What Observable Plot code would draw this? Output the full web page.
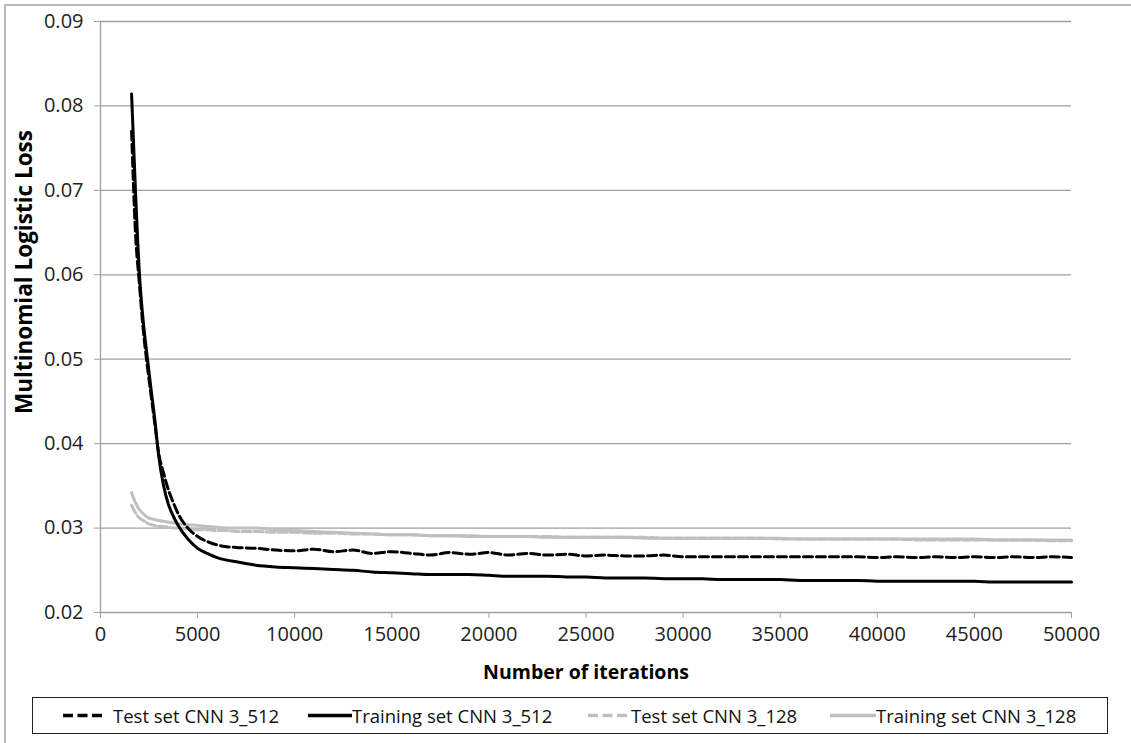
<!DOCTYPE html>
<html>
<head>
<meta charset="utf-8">
<script src="https://cdn.jsdelivr.net/npm/d3@7"></script>
<script src="https://cdn.jsdelivr.net/npm/@observablehq/plot@0.6"></script>
<style>
html, body { margin: 0; padding: 0; background: #fff; }
#wrap { position: relative; width: 1131px; height: 743px; overflow: hidden; font-family: "Open Sans", sans-serif; background: #fff; }
#frame { position: absolute; left: 4px; top: 4px; width: 1200px; height: 800px; border-left: 2px solid #b8b8b8; border-top: 2px solid #b8b8b8; }
#chart { position: absolute; left: 0; top: 0; }
#legend { position: absolute; left: 32px; top: 697px; width: 1074px; height: 35px; border: 1px solid #222; background: #fff; }
.sw { position: absolute; top: 0; }
.lt { position: absolute; top: 0; height: 35px; line-height: 35px; font-size: 18.5px; color: #111; white-space: nowrap; }
</style>
</head>
<body>
<div id="wrap">
  <div id="frame"></div>
  <div id="chart"></div>
  <div id="legend"></div>
</div>
<script>
// ---- data ----
const iterations = [
  1600, 1800, 2000, 2200, 2400, 2600, 2800, 3000, 3250, 3500, 3750, 4000, 4500, 5000, 5500, 6000, 6500, 7000,
  8000, 9000, 10000, 11000, 12000, 13000, 14000, 15000, 16000, 17000,
  18000, 19000, 20000, 21000, 22000, 23000, 24000, 25000, 26000, 27000,
  28000, 29000, 30000, 31000, 32000, 33000, 34000, 35000, 36000, 37000,
  38000, 39000, 40000, 41000, 42000, 43000, 44000, 45000, 46000, 47000,
  48000, 49000, 50000
];
const test512 = [
  0.0770, 0.0650, 0.0590, 0.0535, 0.0494, 0.0458, 0.0423, 0.0388, 0.0365, 0.0345, 0.0330, 0.0317, 0.0300, 0.0290, 0.0284, 0.0280, 0.0278, 0.0277,
  0.0276, 0.0274, 0.0273, 0.0275, 0.0272, 0.0274, 0.0270, 0.0272, 0.0270, 0.0268,
  0.0271, 0.0269, 0.0271, 0.0268, 0.0270, 0.0268, 0.0269, 0.0267, 0.0268, 0.0267,
  0.0267, 0.0268, 0.0266, 0.0266, 0.0266, 0.0266, 0.0266, 0.0266, 0.0266, 0.0266,
  0.0266, 0.0266, 0.0265, 0.0266, 0.0265, 0.0266, 0.0265, 0.0266, 0.0265, 0.0266,
  0.0265, 0.0266, 0.0265
];
const train512 = [
  0.0814, 0.0700, 0.0603, 0.0545, 0.0504, 0.0465, 0.0428, 0.0385, 0.0350, 0.0328, 0.0314, 0.0303, 0.0287, 0.0276, 0.0270, 0.0265, 0.0262, 0.0260,
  0.0256, 0.0254, 0.0253, 0.0252, 0.0251, 0.0250, 0.0248, 0.0247, 0.0246, 0.0245,
  0.0245, 0.0245, 0.0244, 0.0243, 0.0243, 0.0243, 0.0242, 0.0242, 0.0241, 0.0241,
  0.0241, 0.0240, 0.0240, 0.0240, 0.0239, 0.0239, 0.0239, 0.0239, 0.0238, 0.0238,
  0.0238, 0.0238, 0.0237, 0.0237, 0.0237, 0.0237, 0.0237, 0.0237, 0.0236, 0.0236,
  0.0236, 0.0236, 0.0236
];
const test128 = [
  0.0327, 0.0318, 0.0312, 0.0309, 0.0306, 0.0304, 0.0303, 0.0302, 0.0302, 0.0301, 0.0300, 0.0300, 0.0299, 0.0298, 0.0298, 0.0297, 0.0297, 0.0296,
  0.0296, 0.0295, 0.0295, 0.0294, 0.0294, 0.0293, 0.0293, 0.0292, 0.0292, 0.0291,
  0.0291, 0.0291, 0.0290, 0.0290, 0.0290, 0.0290, 0.0289, 0.0289, 0.0289, 0.0289,
  0.0289, 0.0288, 0.0288, 0.0288, 0.0288, 0.0288, 0.0288, 0.0287, 0.0287, 0.0287,
  0.0287, 0.0287, 0.0287, 0.0287, 0.0286, 0.0286, 0.0286, 0.0286, 0.0286, 0.0286,
  0.0286, 0.0285, 0.0285
];
const train128 = [
  0.0342, 0.0330, 0.0322, 0.0317, 0.0313, 0.0311, 0.0310, 0.0309, 0.0308, 0.0307, 0.0306, 0.0305, 0.0304, 0.0303, 0.0302, 0.0301, 0.0300, 0.0300,
  0.0300, 0.0298, 0.0297, 0.0296, 0.0295, 0.0294, 0.0293, 0.0292, 0.0292, 0.0291,
  0.0291, 0.0290, 0.0290, 0.0290, 0.0290, 0.0289, 0.0289, 0.0289, 0.0289, 0.0289,
  0.0288, 0.0288, 0.0288, 0.0288, 0.0288, 0.0288, 0.0288, 0.0288, 0.0287, 0.0287,
  0.0287, 0.0287, 0.0287, 0.0287, 0.0287, 0.0287, 0.0287, 0.0287, 0.0286, 0.0286,
  0.0286, 0.0286, 0.0286
];
const seriesNames = ["Test set CNN 3_512", "Training set CNN 3_512", "Test set CNN 3_128", "Training set CNN 3_128"];
const xTicks = [0, 5000, 10000, 15000, 20000, 25000, 30000, 35000, 40000, 45000, 50000];
const yTicks = [0.02, 0.03, 0.04, 0.05, 0.06, 0.07, 0.08, 0.09];
const xTitle = "Number of iterations";
const yTitle = "Multinomial Logistic Loss";

// ---- styling ----
const BLACK = "#000000", LIGHT = "#bfbfbf", GRID = "#a0a0a0";
const series = [
  { name: seriesNames[0], values: test512, stroke: BLACK, dash: "9,4" },
  { name: seriesNames[1], values: train512, stroke: BLACK, dash: null },
  { name: seriesNames[2], values: test128, stroke: LIGHT, dash: "9,3" },
  { name: seriesNames[3], values: train128, stroke: LIGHT, dash: null }
];
const toRows = (vals) => iterations.map((x, i) => ({ x, y: vals[i] }));
const drawOrder = [3, 2, 0, 1];

const lineMarks = drawOrder.map(i => Plot.line(toRows(series[i].values), {
  x: "x", y: "y", stroke: series[i].stroke, strokeWidth: 3,
  strokeDasharray: series[i].dash || undefined, curve: "monotone-x",
  strokeLinejoin: "round"
}));

const chart = Plot.plot({
  width: 1131,
  height: 690,
  marginLeft: 100,
  marginRight: 60,
  marginTop: 21,
  marginBottom: 78,
  style: { fontFamily: "Open Sans, sans-serif", fontSize: "20px", color: "#222", background: "transparent", overflow: "visible" },
  x: { domain: [0, 50000] },
  y: { domain: [0.02, 0.09] },
  marks: [
    Plot.ruleY(yTicks, { stroke: GRID, strokeWidth: 1.3 }),
    Plot.ruleX([0], { stroke: GRID, strokeWidth: 1.3 }),
    Plot.axisY(yTicks, { tickFormat: d3.format(".2f"), tickSize: 6, tickPadding: 11, stroke: GRID, label: null }),
    Plot.axisX(xTicks, { tickFormat: d3.format("d"), tickSize: 6, tickPadding: 8, stroke: GRID, label: null }),
    ...lineMarks,
    Plot.text([xTitle], { frameAnchor: "bottom", dy: 60, fontWeight: "bold", fontSize: 19.5, fill: "#000", textAnchor: "middle", lineAnchor: "middle" }),
    Plot.text([yTitle], { frameAnchor: "left", dx: -76, dy: -45, rotate: -90, fontWeight: "bold", fontSize: 22.5, fill: "#000", textAnchor: "middle", lineAnchor: "middle" })
  ]
});
document.getElementById("chart").appendChild(chart);

// ---- legend (below the chart) ----
const legend = document.getElementById("legend");
const legendPos = [
  { sx: 30, sw: 39, tx: 80 },
  { sx: 275, sw: 44, tx: 319 },
  { sx: 555, sw: 39, tx: 598 },
  { sx: 797, sw: 46, tx: 843 }
];
series.forEach((s, i) => {
  const p = legendPos[i];
  const svg = d3.create("svg").attr("class", "sw").attr("width", p.sw).attr("height", 35)
    .style("left", p.sx + "px");
  svg.append("line").attr("x1", 0).attr("x2", p.sw).attr("y1", 17.5).attr("y2", 17.5)
    .attr("stroke", s.stroke).attr("stroke-width", 3.5)
    .attr("stroke-dasharray", s.dash ? "10,4.5" : null);
  legend.appendChild(svg.node());
  const t = document.createElement("div");
  t.className = "lt";
  t.style.left = p.tx + "px";
  t.textContent = s.name;
  legend.appendChild(t);
});
</script>
</body>
</html>
